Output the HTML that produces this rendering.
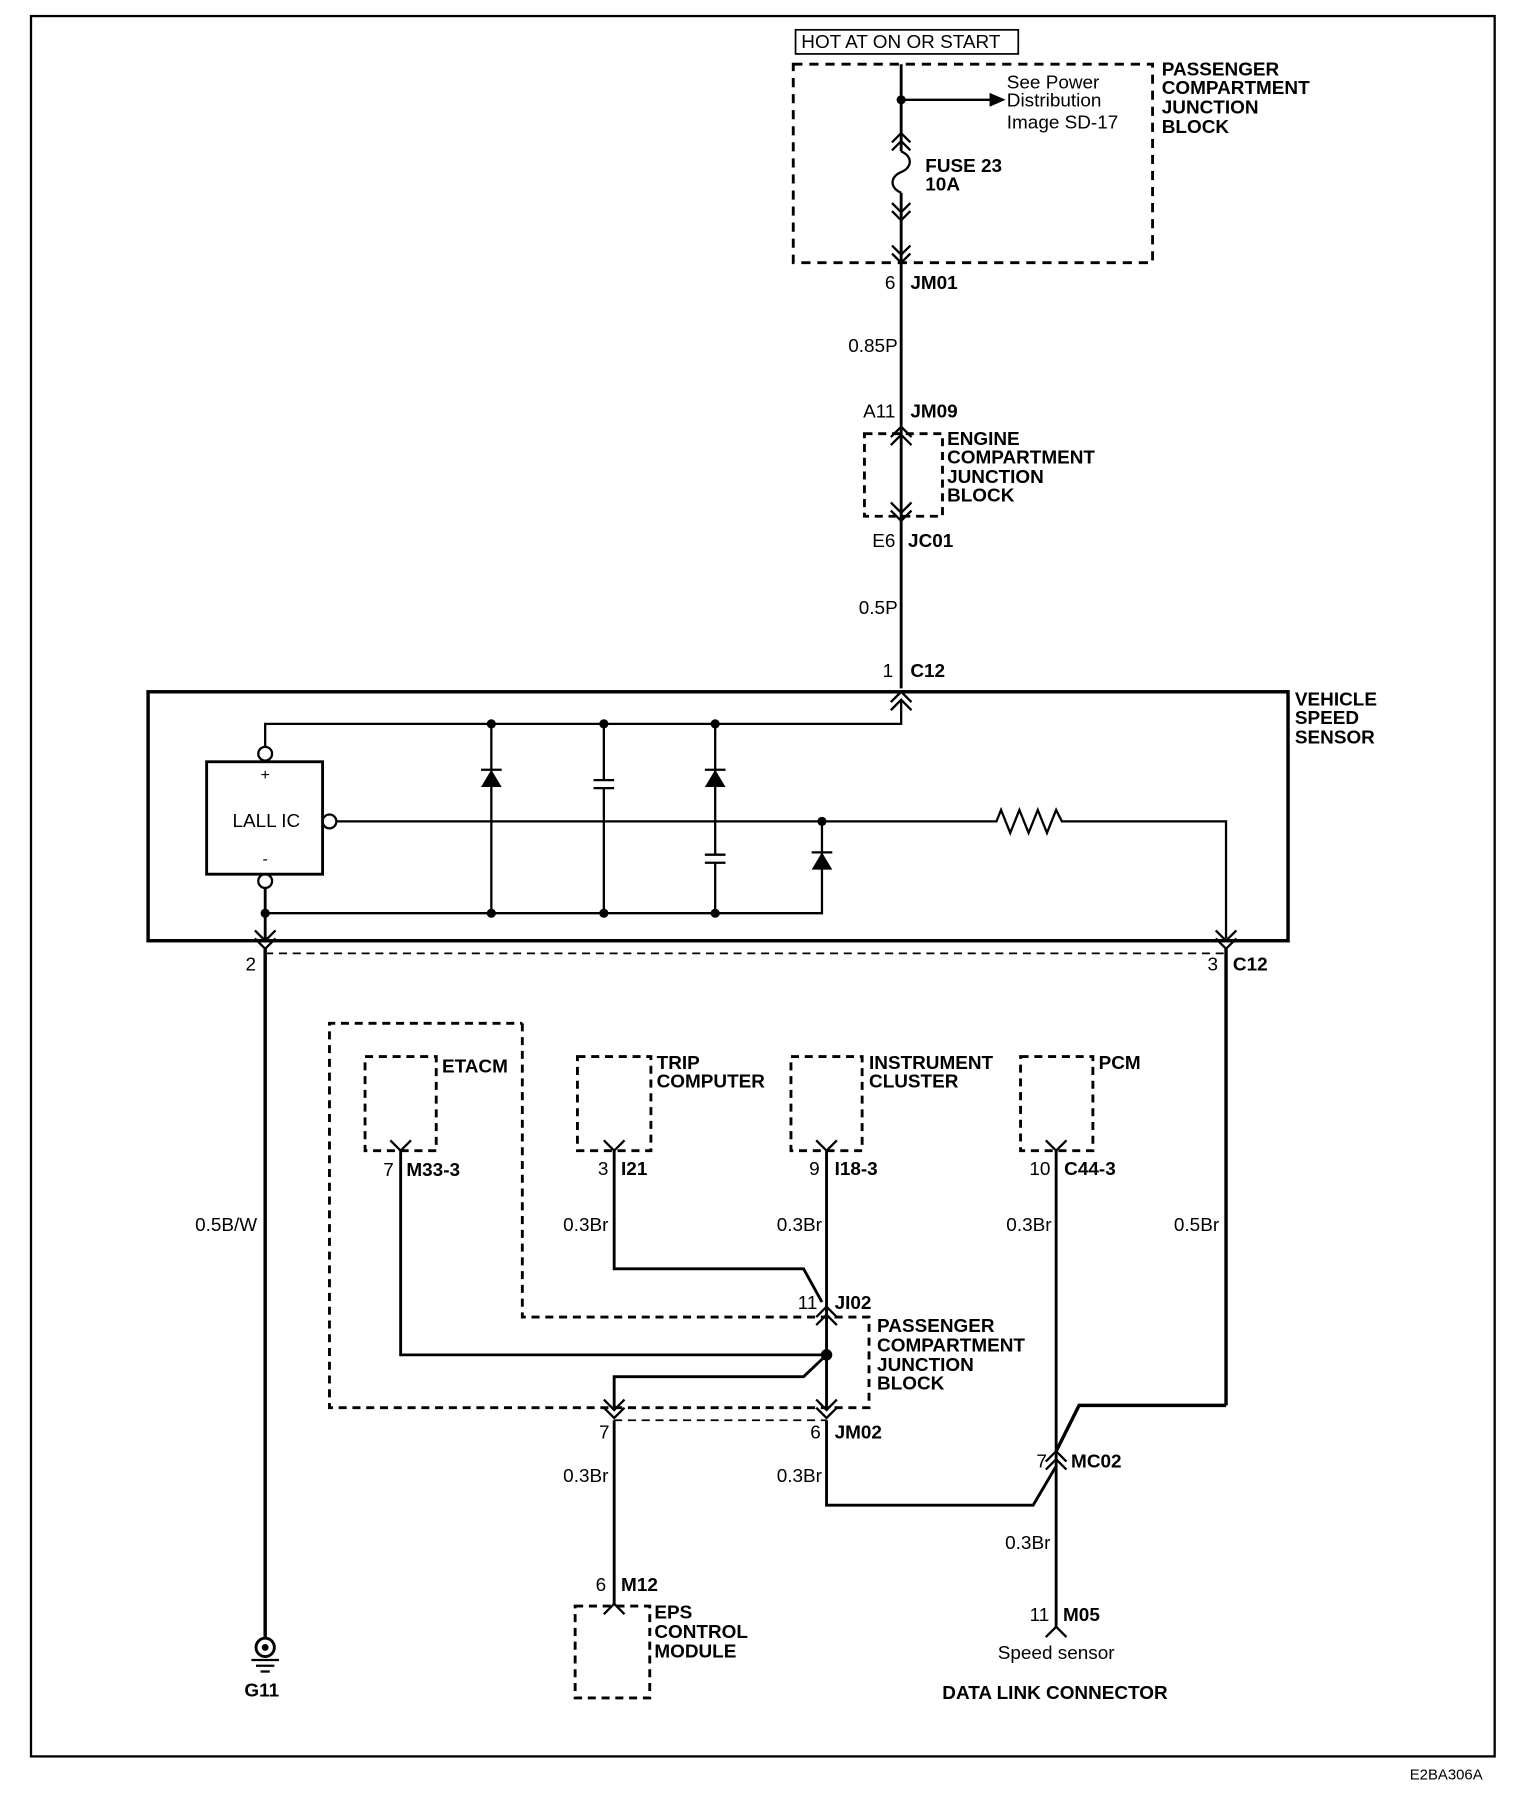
<!DOCTYPE html>
<html><head><meta charset="utf-8">
<style>
html,body{margin:0;padding:0;background:#fff;}
svg{display:block;}
text{font-family:"Liberation Sans",Arial,sans-serif;font-size:16.5px;fill:#000;}
.b{font-weight:bold;}
.r{text-anchor:end;}
.c{text-anchor:middle;}
</style></head><body>
<svg width="1536" height="1800" viewBox="0 0 1338 1569" preserveAspectRatio="none" xmlns="http://www.w3.org/2000/svg">
<g fill="none" stroke="#000" stroke-width="2">
<rect x="27" y="14" width="1275" height="1517"/>
<rect x="693" y="26" width="194" height="21" stroke-width="1.5"/>
<rect x="691" y="56" width="313" height="173" stroke-dasharray="8,6" stroke-width="2.5"/>
<line x1="785" y1="56" x2="785" y2="132" stroke-width="2.5"/>
<line x1="785" y1="87" x2="864" y2="87"/>
<path d="M785 132 c10 4 10 14 0 18 c-10 4 -10 14 0 18" stroke-width="2"/>
<line x1="785" y1="168" x2="785" y2="600" stroke-width="2.5"/>
<polyline points="777,124 785,116 793,124"/><polyline points="777,131 785,123 793,131"/>
<polyline points="777,177 785,185 793,177"/><polyline points="777,184 785,192 793,184"/>
<polyline points="777,214 785,222 793,214"/><polyline points="777,221 785,229 793,221"/>
<rect x="753" y="378" width="68" height="72" stroke-dasharray="7,5" stroke-width="2.5"/>
<polyline points="776,381 785,372 794,381"/><polyline points="776,388 785,379 794,388"/>
<polyline points="776,445 785,454 794,445"/><polyline points="776,438 785,447 794,438"/>
<rect x="129" y="603" width="993" height="217" stroke-width="3"/>
<polyline points="776,612 785,603 794,612"/><polyline points="776,619 785,610 794,619"/>
<polyline points="785,610 785,631 231,631 231,651"/>
<rect x="180" y="664" width="101" height="98" stroke-width="2.5"/>
<circle cx="231" cy="657" r="6"/><circle cx="231" cy="768" r="6"/><circle cx="287" cy="716" r="6"/>
<polyline points="231,774 231,820" stroke-width="2.5"/>
<polyline points="231,796 716,796 716,716"/>
<line x1="428" y1="631" x2="428" y2="796"/><line x1="526" y1="631" x2="526" y2="680"/><line x1="526" y1="687" x2="526" y2="796"/>
<line x1="623" y1="631" x2="623" y2="745"/><line x1="623" y1="752" x2="623" y2="796"/>
<line x1="517" y1="680" x2="535" y2="680"/><line x1="517" y1="687" x2="535" y2="687"/>
<line x1="614" y1="745" x2="632" y2="745"/><line x1="614" y1="752" x2="632" y2="752"/>
<line x1="419" y1="671" x2="437" y2="671"/><line x1="614" y1="671" x2="632" y2="671"/><line x1="707" y1="743" x2="725" y2="743"/>
<polyline points="293,716 868,716 872,706 880,726 888,706 896,726 904,706 912,726 920,706 925,716 1068,716 1068,818"/>
<polyline points="1059,811 1068,820 1077,811"/><polyline points="1059,818 1068,827 1077,818"/>
<polyline points="222,811 231,820 240,811"/><polyline points="222,818 231,827 240,818"/>
<line x1="231" y1="831" x2="1068" y2="831" stroke-dasharray="7,5" stroke-width="1.5"/>
<line x1="231" y1="827" x2="231" y2="1427" stroke-width="3"/>
<line x1="1068" y1="827" x2="1068" y2="1225" stroke-width="3"/>
<polyline points="1068,1225 940,1225 920,1265" stroke-width="3"/>
<circle cx="231" cy="1436" r="8" stroke-width="2.5"/>
<line x1="219" y1="1447" x2="243" y2="1447"/><line x1="223" y1="1452" x2="239" y2="1452"/><line x1="227" y1="1457" x2="235" y2="1457"/>
<polyline points="455,892 455,1148 757,1148 757,1227 287,1227 287,892 455,892" stroke-dasharray="7,5" stroke-width="2.5"/>
<line x1="535" y1="1238" x2="720" y2="1238" stroke-dasharray="7,5" stroke-width="1.5"/>
<rect x="318" y="921" width="62" height="82" stroke-dasharray="7,5" stroke-width="2.5"/>
<rect x="503" y="921" width="64" height="82" stroke-dasharray="7,5" stroke-width="2.5"/>
<rect x="689" y="921" width="62" height="82" stroke-dasharray="7,5" stroke-width="2.5"/>
<rect x="889" y="921" width="63" height="82" stroke-dasharray="7,5" stroke-width="2.5"/>
<rect x="501" y="1400" width="65" height="80" stroke-dasharray="7,5" stroke-width="2.5"/>
<polyline points="340,994 349,1003 358,994"/><polyline points="526,994 535,1003 544,994"/><polyline points="711,994 720,1003 729,994"/><polyline points="911,994 920,1003 929,994"/>
<g stroke-width="2.5">
<polyline points="349,1003 349,1181 720,1181"/>
<polyline points="535,1003 535,1106 700,1106 716,1135"/>
<line x1="720" y1="1003" x2="720" y2="1148"/>
<line x1="720" y1="1148" x2="720" y2="1227"/>
<polyline points="720,1181 700,1200 535,1200 535,1227"/>
<polyline points="535,1238 535,1398"/>
<polyline points="720,1238 720,1312 900,1312 920,1278"/>
<line x1="920" y1="1003" x2="920" y2="1418"/>
</g>
<polyline points="711,1148 720,1139 729,1148"/><polyline points="711,1155 720,1146 729,1155"/>
<polyline points="711,1220 720,1229 729,1220"/><polyline points="711,1227 720,1236 729,1227"/>
<polyline points="526,1220 535,1229 544,1220"/><polyline points="526,1227 535,1236 544,1227"/>
<polyline points="526,1407 535,1398 544,1407"/>
<polyline points="911,1274 920,1265 929,1274"/><polyline points="911,1281 920,1272 929,1281"/>
<polyline points="911,1427 920,1418 929,1427"/>
</g>
<g fill="#000">
<circle cx="785" cy="87" r="4"/><polygon points="862,81 876,87 862,93"/>
<circle cx="428" cy="631" r="4"/><circle cx="526" cy="631" r="4"/><circle cx="623" cy="631" r="4"/>
<circle cx="231" cy="796" r="4"/><circle cx="428" cy="796" r="4"/><circle cx="526" cy="796" r="4"/><circle cx="623" cy="796" r="4"/>
<circle cx="716" cy="716" r="4"/><circle cx="720" cy="1181" r="5"/>
<polygon points="428,671 419,686 437,686"/><polygon points="623,671 614,686 632,686"/><polygon points="716,743 707,758 725,758"/>
<circle cx="231" cy="1436" r="3"/>
</g>
<text x="698" y="42">HOT AT ON OR START</text>
<text x="877" y="77">See Power</text><text x="877" y="93">Distribution</text><text x="877" y="112">Image SD-17</text>
<text class="b" x="1012" y="66">PASSENGER</text><text class="b" x="1012" y="82">COMPARTMENT</text><text class="b" x="1012" y="99">JUNCTION</text><text class="b" x="1012" y="116">BLOCK</text>
<text class="b" x="806" y="150">FUSE 23</text><text class="b" x="806" y="166">10A</text>
<text class="r" x="780" y="252">6</text><text class="b" x="793" y="252">JM01</text>
<text class="r" x="782" y="307">0.85P</text>
<text class="r" x="780" y="364">A11</text><text class="b" x="793" y="364">JM09</text>
<text class="b" x="825" y="388">ENGINE</text><text class="b" x="825" y="404">COMPARTMENT</text><text class="b" x="825" y="421">JUNCTION</text><text class="b" x="825" y="437">BLOCK</text>
<text class="r" x="780" y="477">E6</text><text class="b" x="791" y="477">JC01</text>
<text class="r" x="782" y="535">0.5P</text>
<text class="r" x="778" y="590">1</text><text class="b" x="793" y="590">C12</text>
<text class="b" x="1128" y="615">VEHICLE</text><text class="b" x="1128" y="631">SPEED</text><text class="b" x="1128" y="648">SENSOR</text>
<text class="c" x="231" y="680" style="font-size:14px">+</text><text class="c" x="232" y="721">LALL IC</text><text class="c" x="231" y="753" style="font-size:14px">-</text>
<text class="r" x="223" y="846">2</text><text class="r" x="1061" y="846">3</text><text class="b" x="1074" y="846">C12</text>
<text class="r" x="224" y="1073">0.5B/W</text>
<text class="b c" x="228" y="1479">G11</text>
<text class="b" x="385" y="935">ETACM</text>
<text class="b" x="572" y="932">TRIP</text><text class="b" x="572" y="948">COMPUTER</text>
<text class="b" x="757" y="932">INSTRUMENT</text><text class="b" x="757" y="948">CLUSTER</text>
<text class="b" x="957" y="932">PCM</text>
<text class="r" x="343" y="1025">7</text><text class="b" x="354" y="1025">M33-3</text>
<text class="r" x="530" y="1024">3</text><text class="b" x="541" y="1024">I21</text>
<text class="r" x="714" y="1024">9</text><text class="b" x="727" y="1024">I18-3</text>
<text class="r" x="915" y="1024">10</text><text class="b" x="927" y="1024">C44-3</text>
<text class="r" x="530" y="1073">0.3Br</text><text class="r" x="716" y="1073">0.3Br</text><text class="r" x="916" y="1073">0.3Br</text><text class="r" x="1062" y="1073">0.5Br</text>
<text class="r" x="712" y="1141">11</text><text class="b" x="727" y="1141">JI02</text>
<text class="b" x="764" y="1161">PASSENGER</text><text class="b" x="764" y="1178">COMPARTMENT</text><text class="b" x="764" y="1195">JUNCTION</text><text class="b" x="764" y="1211">BLOCK</text>
<text class="r" x="531" y="1254">7</text><text class="r" x="715" y="1254">6</text><text class="b" x="727" y="1254">JM02</text>
<text class="r" x="912" y="1279">7</text><text class="b" x="933" y="1279">MC02</text>
<text class="r" x="530" y="1292">0.3Br</text><text class="r" x="716" y="1292">0.3Br</text>
<text class="r" x="915" y="1350">0.3Br</text>
<text class="r" x="528" y="1387">6</text><text class="b" x="541" y="1387">M12</text>
<text class="b" x="570" y="1411">EPS</text><text class="b" x="570" y="1428">CONTROL</text><text class="b" x="570" y="1445">MODULE</text>
<text class="r" x="914" y="1413">11</text><text class="b" x="926" y="1413">M05</text>
<text class="c" x="920" y="1446">Speed sensor</text>
<text class="b c" x="919" y="1481">DATA LINK CONNECTOR</text>
<text x="1228" y="1551" style="font-size:13px">E2BA306A</text>
</svg>
</body></html>
